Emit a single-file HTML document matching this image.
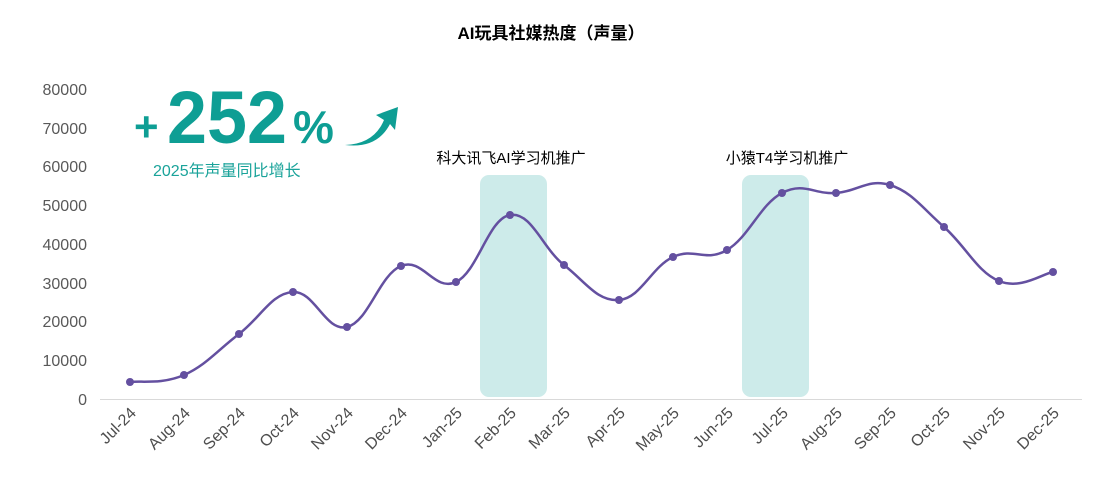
<!DOCTYPE html>
<html><head><meta charset="utf-8"><style>
body{margin:0;background:#fff;}
svg text{font-family:"Liberation Sans","Noto Sans CJK SC",sans-serif;}
</style></head><body>
<svg width="1102" height="498" xmlns="http://www.w3.org/2000/svg">
<text x="551" y="39" text-anchor="middle" font-size="17" font-weight="bold" fill="#000">AI玩具社媒热度（声量）</text>
<g font-size="16" fill="#595959" text-anchor="end">
<text x="87" y="405">0</text><text x="87" y="366">10000</text><text x="87" y="327">20000</text><text x="87" y="289">30000</text><text x="87" y="250">40000</text><text x="87" y="211">50000</text><text x="87" y="172">60000</text><text x="87" y="134">70000</text><text x="87" y="95">80000</text>
</g>
<line x1="100" y1="399.5" x2="1082" y2="399.5" stroke="#d9d9d9" stroke-width="1"/>
<rect x="480" y="175" width="67" height="222" rx="9" fill="#cdebea"/>
<rect x="742" y="175" width="67" height="222" rx="9" fill="#cdebea"/>
<text x="511" y="163" text-anchor="middle" font-size="15" fill="#000">科大讯飞AI学习机推广</text>
<text x="787" y="163" text-anchor="middle" font-size="15" fill="#000">小猿T4学习机推广</text>
<g id="c"></g>
<g font-size="16" fill="#4d4d4d" id="xl"></g>
<text x="134" y="141" font-size="42" font-weight="bold" fill="#0e9e94">+</text>
<text x="167" y="143" font-size="74" font-weight="bold" fill="#0e9e94" textLength="120" lengthAdjust="spacingAndGlyphs">252</text>
<text x="293" y="143" font-size="46" font-weight="bold" fill="#0e9e94">%</text>
<path d="M345,145 Q374,144 384,120 L376,115 L398,107 L395,130 L390,124 Q377,149 345,145Z" fill="#0e9e94"/>
<text x="153" y="176" font-size="16" fill="#1aa39a">2025年声量同比增长</text>
</svg>
<script>
var pts=[[130,382],[184,375],[239,334],[293,292],[347,327],[401,266],[456,282],[510,215],[564,265],[619,300],[673,257],[727,250],[782,193],[836,193],[890,185],[944,227],[999,281],[1053,272]];
var labs=["Jul-24","Aug-24","Sep-24","Oct-24","Nov-24","Dec-24","Jan-25","Feb-25","Mar-25","Apr-25","May-25","Jun-25","Jul-25","Aug-25","Sep-25","Oct-25","Nov-25","Dec-25"];
var d="M"+pts[0];
for(var i=0;i<pts.length-1;i++){var p0=pts[i-1]||pts[i],p1=pts[i],p2=pts[i+1],p3=pts[i+2]||p2;var t=0.2;
d+=" C"+(p1[0]+(p2[0]-p0[0])*t)+","+(p1[1]+(p2[1]-p0[1])*t)+" "+(p2[0]-(p3[0]-p1[0])*t)+","+(p2[1]-(p3[1]-p1[1])*t)+" "+p2[0]+","+p2[1];}
var ns="http://www.w3.org/2000/svg",g=document.getElementById("c");
var p=document.createElementNS(ns,"path");p.setAttribute("d",d);p.setAttribute("fill","none");p.setAttribute("stroke","#6450a0");p.setAttribute("stroke-width","2.5");g.appendChild(p);
pts.forEach(function(q){var c=document.createElementNS(ns,"circle");c.setAttribute("cx",q[0]);c.setAttribute("cy",q[1]);c.setAttribute("r","4");c.setAttribute("fill","#6450a0");g.appendChild(c);});
var xl=document.getElementById("xl");
labs.forEach(function(l,i){var t=document.createElementNS(ns,"text");var x=pts[i][0]+7,y=414;t.setAttribute("x",x);t.setAttribute("y",y);t.setAttribute("text-anchor","end");t.setAttribute("transform","rotate(-45 "+x+" "+y+")");t.textContent=l;xl.appendChild(t);});
</script>
</body></html>
